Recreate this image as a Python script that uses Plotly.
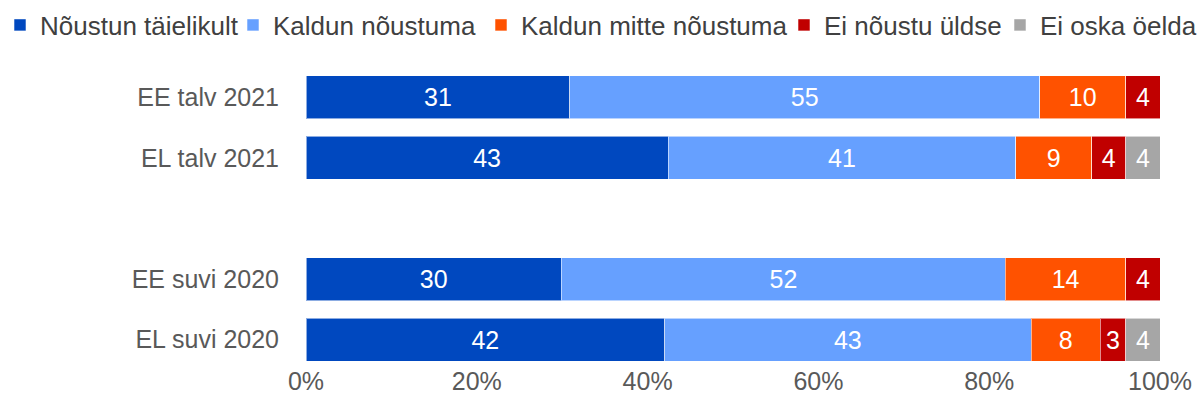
import plotly.graph_objects as go

# ---- data ----
categories = ["EE talv 2021", "EL talv 2021", "EE suvi 2020", "EL suvi 2020"]
groups = [0, 0, 1, 1]  # survey wave; a blank row separates waves

series_names = ["Nõustun täielikult", "Kaldun nõustuma", "Kaldun mitte nõustuma",
                "Ei nõustu üldse", "Ei oska öelda"]

# bar lengths (percent)
noustun_taielikult = [30.9, 42.4, 29.9, 42.0]
kaldun_noustuma = [55.0, 40.7, 52.0, 42.9]
kaldun_mitte_noustuma = [10.1, 8.9, 14.1, 8.1]
ei_noustu_uldse = [4.0, 4.0, 4.0, 3.0]
ei_oska_oelda = [0.0, 4.0, 0.0, 4.0]

# printed labels
lbl_noustun_taielikult = ["31", "43", "30", "42"]
lbl_kaldun_noustuma = ["55", "41", "52", "43"]
lbl_kaldun_mitte_noustuma = ["10", "9", "14", "8"]
lbl_ei_noustu_uldse = ["4", "4", "4", "3"]
lbl_ei_oska_oelda = ["", "4", "", "4"]

x_ticks = [0, 20, 40, 60, 80, 100]
x_tick_labels = ["0%", "20%", "40%", "60%", "80%", "100%"]

colors = ["#0048BF", "#66A0FF", "#FF5200", "#C00000", "#A6A6A6"]

values = [noustun_taielikult, kaldun_noustuma, kaldun_mitte_noustuma,
          ei_noustu_uldse, ei_oska_oelda]
labels = [lbl_noustun_taielikult, lbl_kaldun_noustuma, lbl_kaldun_mitte_noustuma,
          lbl_ei_noustu_uldse, lbl_ei_oska_oelda]

ypos = [i + g for i, g in enumerate(groups)]

FONT = "Liberation Sans, Arial, sans-serif"
W, H = 1203, 412

# left offsets (px) of the individual legend entries
legend_px = [0, 233, 481, 784, 1000]
legend_ids = ["legend", "legend2", "legend3", "legend4", "legend5"]

fig = go.Figure()
for name, vals, lbls, col, lid in zip(series_names, values, labels, colors, legend_ids):
    fig.add_trace(go.Bar(
        name=name,
        y=ypos,
        x=vals,
        orientation="h",
        width=0.71,
        marker=dict(color=col, line=dict(color="rgba(255,255,255,0.55)", width=1)),
        text=lbls,
        textposition="inside",
        insidetextanchor="middle",
        textangle=0,
        constraintext="none",
        textfont=dict(family=FONT, size=25, color="white"),
        hoverinfo="skip",
        legend=lid,
    ))

legend_layouts = {}
for lid, px in zip(legend_ids, legend_px):
    legend_layouts[lid] = dict(
        orientation="h",
        x=px / W, xanchor="left",
        y=1 - 25 / H, yanchor="middle",
        xref="container", yref="container",
        font=dict(family=FONT, size=26, color="#404040"),
        itemwidth=30,
        bgcolor="rgba(0,0,0,0)",
    )

fig.update_layout(
    barmode="stack",
    width=W,
    height=H,
    margin=dict(l=306, r=43, t=67, b=42, autoexpand=False),
    paper_bgcolor="white",
    plot_bgcolor="white",
    font=dict(family=FONT, color="#404040"),
    showlegend=True,
    xaxis=dict(
        range=[0, 100],
        tickvals=x_ticks,
        ticktext=x_tick_labels,
        showgrid=False,
        zeroline=False,
        showline=False,
        ticks="",
        automargin=False,
        ticklabelstandoff=-6,
        tickfont=dict(family=FONT, size=25, color="#595959"),
        fixedrange=True,
    ),
    yaxis=dict(
        range=[4.5, -0.5],
        tickvals=ypos,
        ticktext=categories,
        showgrid=False,
        zeroline=False,
        showline=False,
        ticks="",
        automargin=False,
        ticklabelstandoff=26,
        tickfont=dict(family=FONT, size=25, color="#595959"),
        fixedrange=True,
    ),
    **legend_layouts,
)

fig.write_html(
    "out.html",
    config={"displayModeBar": False, "staticPlot": True},
    post_script="document.body.style.margin='0';document.body.style.overflow='hidden';",
)
